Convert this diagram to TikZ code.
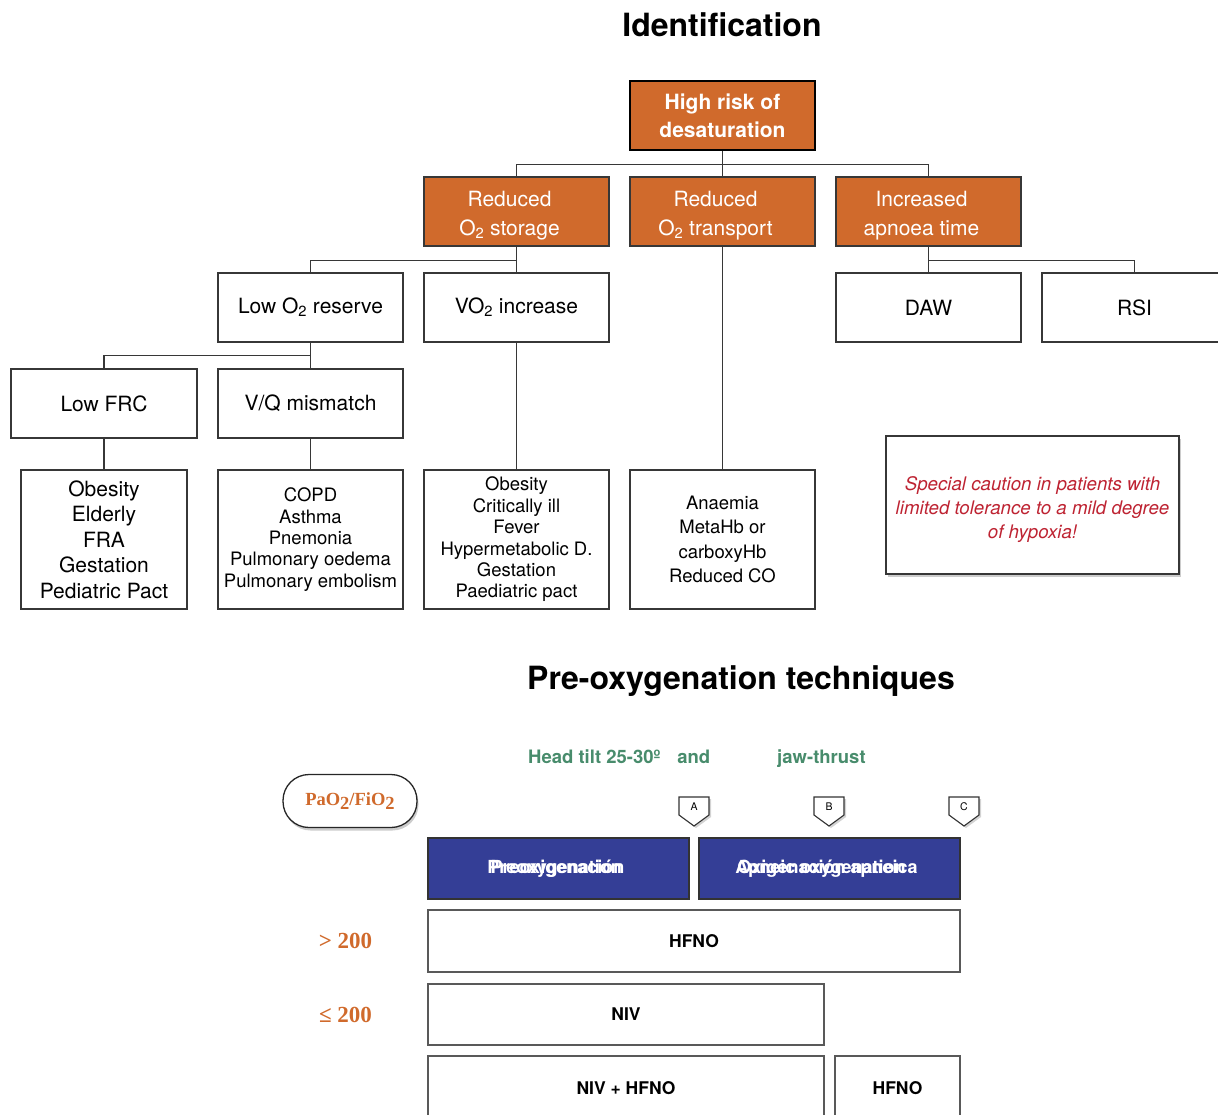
\documentclass[tikz,border=0pt]{standalone}
\usepackage{fontspec}
\setmainfont{TeX Gyre Heros}
\newfontfamily\timesface{Liberation Serif}
\usetikzlibrary{shadows}
\definecolor{riskorange}{RGB}{208,106,44}
\definecolor{techblue}{RGB}{52,62,150}
\definecolor{linegray}{RGB}{55,55,55}
\definecolor{cautionred}{RGB}{190,35,50}
\definecolor{posegreen}{RGB}{72,140,108}
\newcommand\fsz[2]{\fontsize{#1}{#2}\selectfont}
\newcommand\sub[1]{\textsubscript{#1}}

\begin{document}
\begin{tikzpicture}[x=1pt,y=-1pt,
  box/.style={draw=linegray, line width=1.3pt, fill=white, minimum width=185pt,
    minimum height=69pt, inner sep=0pt, align=center, font=\fsz{21}{28}},
  catbox/.style={box, fill=riskorange, text=white},
  cattext/.style={text=white, align=center, font=\fsz{21}{29}, inner sep=0pt,
    xshift=-7pt, yshift=-4pt},
  listbox/.style={box, minimum height=139pt, font=\fsz{18.5}{21.4}},
  link/.style={draw=linegray, line width=1.3pt},
  heading/.style={font=\fsz{32}{36}\bfseries, inner sep=0pt},
  techbox/.style={draw=black!80, line width=1.3pt, fill=techblue, minimum width=261pt,
    minimum height=61pt, inner sep=0pt},
  techtext/.style={text=white, font=\fsz{18}{20}\bfseries, inner sep=0pt},
  optbox/.style={draw=black!65, line width=1.2pt, fill=white, minimum height=62pt,
    inner sep=0pt, font=\fsz{17.5}{20}\bfseries},
  ratio/.style={text=riskorange, font=\fsz{23}{26}\timesface\bfseries, inner sep=0pt},
  posture/.style={anchor=base west, text=posegreen, font=\fsz{18.5}{20}\bfseries, inner sep=0pt},
  marker/.style={draw=black!80, line width=1.1pt, fill=white,
    drop shadow={shadow xshift=2pt, shadow yshift=-2pt, opacity=0.35}},
  markerlabel/.style={font=\fsz{10.5}{12}, inner sep=0pt},
]
\useasboundingbox (0,0) rectangle (1218,1114);

% ---------------- Identification tree ----------------
\node[heading] (idtitle) at (722,25) {Identification};

\node[catbox, draw=black, line width=2.6pt, font=\fsz{21}{28}\bfseries]
  (risk) at (722.5,115.5) {High risk of\\desaturation};

\node[catbox, label={[cattext]center:{Reduced\\O\sub{2} storage}}]   (storage)   at (516.5,211.5) {};
\node[catbox, label={[cattext]center:{Reduced\\O\sub{2} transport}}] (transport) at (722.5,211.5) {};
\node[catbox, label={[cattext]center:{Increased\\apnoea time}}]      (apnoea)    at (928.5,211.5) {};

\node[box] (lowres) at (310.5,307.5) {Low O\sub{2} reserve};
\node[box] (vo2)    at (516.5,307.5) {VO\sub{2} increase};
\node[box] (daw)    at (928.5,307.5) {DAW};
\node[box] (rsi)    at (1134.5,307.5) {RSI};

\node[box, minimum width=186pt] (lowfrc) at (104,403.5) {Low FRC};
\node[box] (vq) at (310.5,403.5) {V/Q mismatch};

\node[listbox, minimum width=166pt, font=\fsz{21}{25.5}] (frclist) at (104,539.5)
  {Obesity\\Elderly\\FRA\\Gestation\\Pediatric Pact};
\node[listbox] (vqlist) at (310.5,539.5)
  {COPD\\Asthma\\Pnemonia\\Pulmonary oedema\\Pulmonary embolism};
\node[listbox] (vo2list) at (516.5,539.5)
  {Obesity\\Critically ill\\Fever\\Hypermetabolic D.\\Gestation\\Paediatric pact};
\node[listbox, font=\fsz{18.5}{24.2}] (translist) at (722.5,539.5)
  {Anaemia\\MetaHb or\\carboxyHb\\Reduced CO};

\node[box, minimum width=293pt, minimum height=138pt,
  drop shadow={shadow xshift=2pt, shadow yshift=-3pt, opacity=0.4},
  label={[text=cautionred, align=center, font=\fsz{18.7}{24}\itshape, inner sep=0pt,
    yshift=-4.5pt]center:{Special caution in patients with\\limited tolerance to a mild degree\\of hypoxia!}}]
  (caution) at (1032.5,505) {};

% connectors
\draw[link] (risk.south) -- ++(0,13.5) -| (storage.north);
\draw[link] (risk.south) -- (transport.north);
\draw[link] (risk.south) -- ++(0,13.5) -| (apnoea.north);
\draw[link] (storage.south) -- ++(0,13.5) -| (lowres.north);
\draw[link] (storage.south) -- (vo2.north);
\draw[link] (apnoea.south) -- (daw.north);
\draw[link] (apnoea.south) -- ++(0,13.5) -| (rsi.north);
\draw[link] (lowres.south) -- ++(0,13) -| (lowfrc.north);
\draw[link] (lowres.south) -- (vq.north);
\draw[link] (lowfrc.south) -- (frclist.north);
\draw[link] (vq.south) -- (vqlist.north);
\draw[link] (vo2.south) -- (vo2list.north);
\draw[link] (transport.south) -- (translist.north);

% ---------------- Pre-oxygenation techniques ----------------
\node[heading] (pretitle) at (741,681) {Pre-oxygenation techniques};

\node[posture] (headtilt) at (528,763.5) {Head tilt 25-30º\hspace{17pt}and};
\node[posture] (jaw) at (777,763.5) {jaw-thrust};

\node[draw=black!85, line width=1.3pt, fill=white, rounded corners=26pt,
  minimum width=134pt, minimum height=53pt, inner sep=0pt,
  drop shadow={shadow xshift=1.5pt, shadow yshift=-3pt, opacity=0.4},
  text=riskorange, font=\fsz{18.5}{20}\timesface\bfseries] (pafi) at (350,801)
  {PaO\raisebox{-4.5pt}{2}/FiO\raisebox{-4.5pt}{2}};

% phase markers
\foreach \mx/\ml in {694/A, 829/B, 964/C}{
  \draw[marker] (\mx-15,797) -- (\mx+15,797) -- (\mx+15,815) -- (\mx,826)
    -- (\mx-15,815) -- cycle;
  \node[markerlabel] (mark\ml) at (\mx,807) {\ml};
}

\node[techbox] (preox) at (558.5,868.5) {};
\node[techtext] (preoxen) at ([xshift=-4pt]preox.center) {Preoxygenation};
\node[techtext] (preoxes) at ([xshift=-1pt]preox.center) {Preoxigenación};
\node[techbox] (apneic) at (829.5,868.5) {};
\node[techtext] (apneicen) at ([xshift=-9pt]apneic.center) {Apneic oxygenation};
\node[techtext] (apneices) at ([xshift=-2pt]apneic.center) {Oxigenación apneica};

\node[ratio] (gt200) at (345.5,941) {> 200};
\node[ratio] (le200) at (345.5,1014.5) {≤ 200};

\node[optbox, minimum width=532pt] (hfno) at (694,941) {HFNO};
\node[optbox, minimum width=396pt, minimum height=61pt] (niv) at (626,1014.5) {NIV};
\node[optbox, minimum width=396pt, minimum height=64pt] (nivhfno) at (626,1088) {NIV + HFNO};
\node[optbox, minimum width=125pt, minimum height=64pt] (hfnob) at (897.5,1088) {HFNO};
\end{tikzpicture}
\end{document}
